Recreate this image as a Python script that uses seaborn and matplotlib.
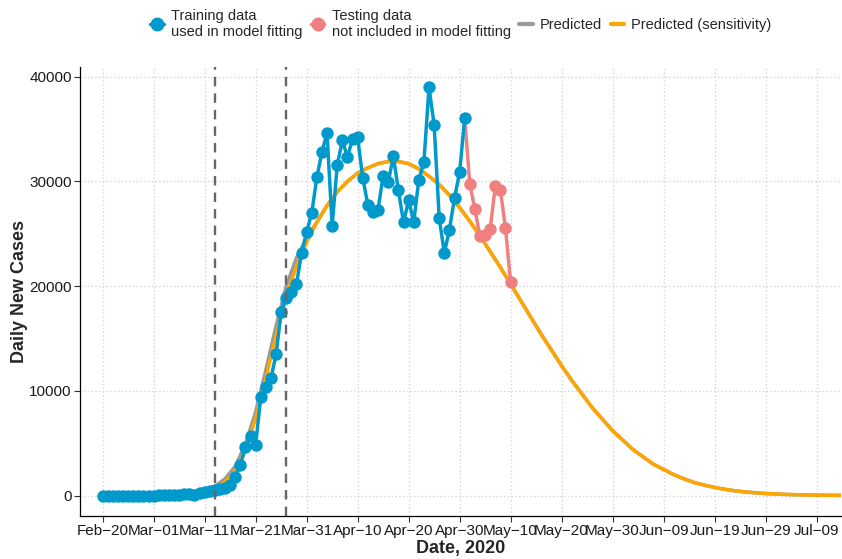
import pandas as pd
import seaborn as sns
import matplotlib
matplotlib.use('Agg')
import matplotlib.pyplot as plt
from matplotlib.lines import Line2D

# %%
START = pd.Timestamp('2020-02-20')

# daily new cases, Feb-20 .. May-01 (training)
train_cases = [0, 0, 0, 0, 0, 1, 0, 3, 0, 8,
               7, 23, 20, 31, 68, 45, 140, 116, 65, 250,
               300, 400, 500, 600, 750, 1050, 1750, 2960, 4600, 5700,
               4870, 9420, 10340, 11200, 13490, 17500, 18900, 19400, 20170, 23170, 25170,
               26980, 30390, 32810, 34630, 25780, 31530, 33920, 32330, 34050, 34200,
               30330, 27780, 27050, 27300, 30550, 29950, 32390, 29150, 26090, 28200,
               26110, 30170, 31860, 38980, 35420, 26510, 23170, 25390, 28420, 30860,
               36060]
# May-01 .. May-10 (testing, line starts at last training day)
test_cases = [36060, 29750, 27330, 24750, 24850, 25460, 29530, 29150, 25560, 20360]

# model curves, days after Feb-20
pred_days = [0, 10, 14, 16, 18, 20, 22, 24, 26, 28, 30, 32, 34, 36, 38, 40, 42, 44, 46, 48,
             50, 52, 54, 56, 58, 60, 62, 64, 66, 68, 70, 72, 74, 76, 78, 80, 82, 84, 86, 88,
             90, 92, 94, 96, 98, 100, 102, 104, 106, 108, 110, 112, 114, 116, 118, 120, 122,
             124, 126, 128, 130, 134, 138, 142, 146]
pred_sens = [0, 5, 30, 70, 160, 350, 700, 1300, 2400, 4300, 7400, 11200, 15300, 19000, 21900,
             24200, 26100, 27700, 29000, 30000, 30800, 31300, 31700, 31900, 31900, 31700, 31200,
             30500, 29700, 28700, 27500, 26200, 24800, 23300, 21800, 20200, 18600, 17000, 15400,
             13900, 12400, 11000, 9700, 8400, 7300, 6200, 5300, 4400, 3700, 3000, 2500, 2000,
             1600, 1250, 1000, 780, 600, 460, 350, 270, 200, 110, 60, 30, 15]
pred_main = [0, 8, 45, 100, 230, 480, 900, 1600, 2800, 4900, 8000, 12000, 16200, 20000, 22700,
             24600, 26100, 27700, 29000, 30000, 30800, 31300, 31700, 31900, 31900, 31700, 31200,
             30500, 29700, 28700, 27500, 26200, 24800, 23300, 21800, 20200, 18600, 17000, 15400,
             13900, 12400, 11000, 9700, 8400, 7300, 6200, 5300, 4400, 3700, 3000, 2500, 2000,
             1600, 1250, 1000, 780, 600, 460, 350, 270, 200, 110, 60, 30, 15]

vline_dates = ['2020-03-13', '2020-03-27']
tick_dates = pd.date_range('2020-02-20', '2020-07-09', freq='10D')

BLUE = '#0099CC'
PINK = '#F08080'
ORANGE = '#FFA500'
GREY = '#999999'

# %%
train = pd.DataFrame({'date': pd.date_range(START, periods=len(train_cases)), 'cases': train_cases})
test = pd.DataFrame({'date': pd.date_range('2020-05-01', periods=len(test_cases)), 'cases': test_cases})
pred = pd.DataFrame({'date': START + pd.to_timedelta(pred_days, unit='D'),
                     'main': pred_main, 'sens': pred_sens})

sns.set_theme(style='white')
plt.rcParams['font.family'] = ['Liberation Sans', 'DejaVu Sans']

fig = plt.figure(figsize=(8.42, 5.59), dpi=100)
ax = fig.add_axes([80 / 842, 43 / 559, 761 / 842, 449 / 559])

sns.lineplot(data=pred, x='date', y='main', color=GREY, lw=2.5, ax=ax, zorder=2)
sns.lineplot(data=pred, x='date', y='sens', color=ORANGE, lw=2.5, ax=ax, zorder=3)
sns.lineplot(data=test, x='date', y='cases', color=PINK, lw=2.5, ax=ax, zorder=4)
sns.scatterplot(data=test.iloc[1:], x='date', y='cases', color=PINK, s=80, linewidth=0, ax=ax, zorder=5)
sns.lineplot(data=train, x='date', y='cases', color=BLUE, lw=2.5, ax=ax, zorder=6)
sns.scatterplot(data=train, x='date', y='cases', color=BLUE, s=80, linewidth=0, ax=ax, zorder=7)

for d in vline_dates:
    ax.axvline(pd.Timestamp(d), color='#666666', lw=1.7, ls=(0, (4, 3)), zorder=8)

ax.set_xlim(START - pd.Timedelta(days=4.45), START + pd.Timedelta(days=144.8))
ax.set_ylim(-1949, 40929)
ax.set_xticks(tick_dates)
ax.set_xticklabels([t.strftime('%b\u2212%d') for t in tick_dates], fontsize=11, color='#1a1a1a')
ax.set_yticks([0, 10000, 20000, 30000, 40000])
ax.set_yticklabels(['0', '10000', '20000', '30000', '40000'], fontsize=11, color='#1a1a1a')

ax.grid(True, color='#cfcfcf', ls=(0, (1, 2)), lw=0.9)
ax.set_axisbelow(True)
for s in ['top', 'right']:
    ax.spines[s].set_visible(False)
for s in ['left', 'bottom']:
    ax.spines[s].set_color('black')
    ax.spines[s].set_linewidth(0.9)
ax.tick_params(axis='both', which='major', length=4, width=0.8, color='#333333', bottom=True, left=True, pad=2)

ax.set_xlabel('Date, 2020', fontsize=13, fontweight='bold', labelpad=1)
ax.set_ylabel('Daily New Cases', fontsize=13, fontweight='bold', labelpad=0.5)

handles = [Line2D([], [], color=BLUE, marker='o', ms=9, lw=2.5),
           Line2D([], [], color=PINK, marker='o', ms=9, lw=2.5),
           Line2D([], [], color=GREY, lw=3),
           Line2D([], [], color=ORANGE, lw=3)]
labels = ['Training data\nused in model fitting', 'Testing data\nnot included in model fitting',
          'Predicted', 'Predicted (sensitivity)']
fig.legend(handles, labels, loc='upper center', bbox_to_anchor=(461 / 842, 1.008), ncol=4,
           frameon=False, fontsize=10.5, handlelength=0.9, handletextpad=0.5, columnspacing=0.6)

plt.savefig('out.png', dpi=100)
